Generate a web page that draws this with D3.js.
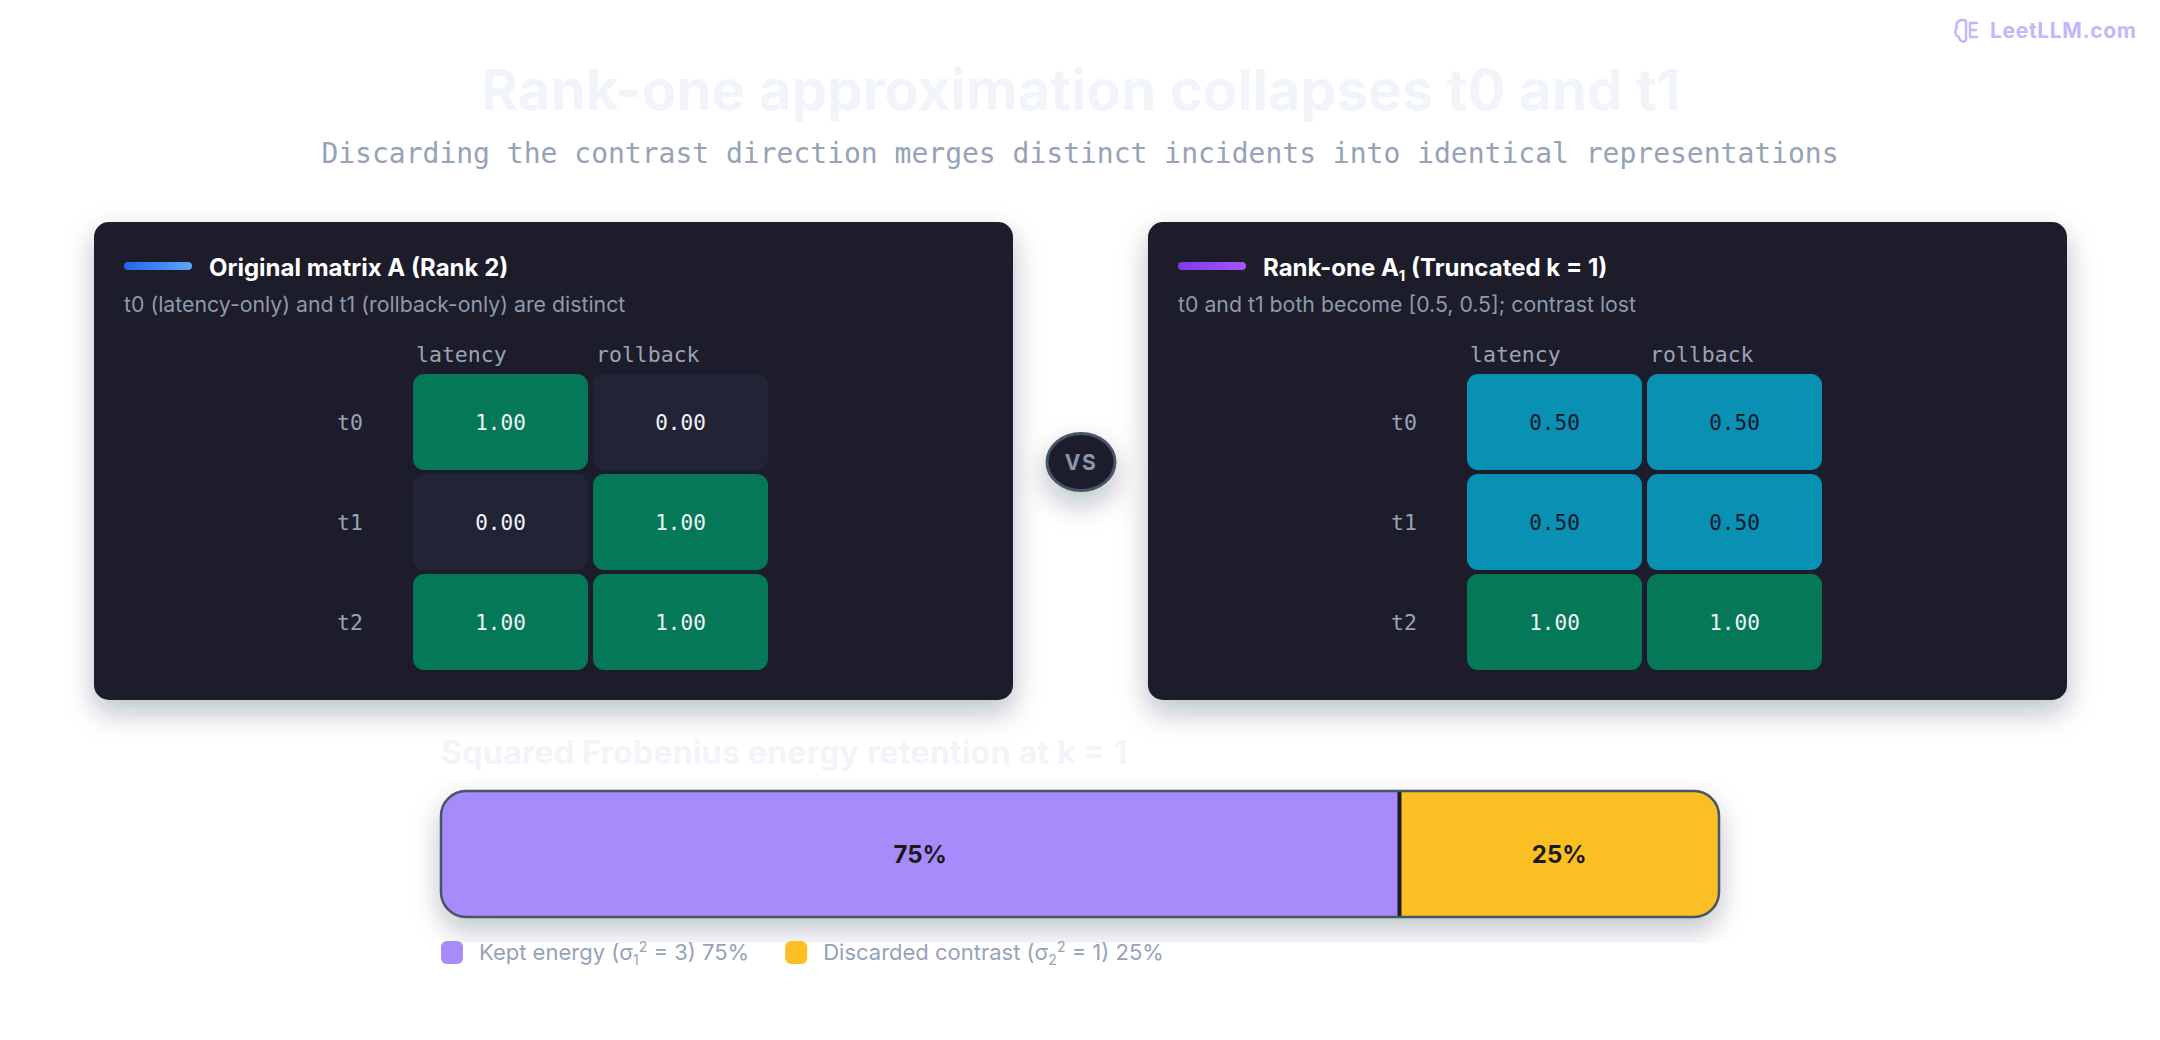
<!DOCTYPE html>
<html>
<head>
<meta charset="utf-8">
<script src="https://cdn.jsdelivr.net/npm/d3@7"></script>
<style>
  html, body { margin: 0; padding: 0; background: #ffffff; }
  svg { display: block; }
</style>
</head>
<body>
<div id="chart"></div>
<script>
// matrix data
const rowNames   = ["t0", "t1", "t2"];
const colNames   = ["latency", "rollback"];
const origVals   = [[1, 0], [0, 1], [1, 1]];
const rankOneVals = [[0.5, 0.5], [0.5, 0.5], [1, 1]];

// energy split (sigma squared)
const energyNames  = ["Kept energy", "Discarded contrast"];
const energyVals   = [3, 1];
const energyColors = ["#a78bfa", "#fbbf24"];

const W = 2160, H = 1040;
const sans = "Inter, 'Noto Sans', sans-serif";
const mono = "'DejaVu Sans Mono', 'Liberation Mono', monospace";

let svg = d3.select("#chart").append("svg")
    .attr("width", W)
    .attr("height", H);

let defs = svg.append("defs");

function addShadow(id, pad){
    let f = defs.append("filter")
        .attr("id", id)
        .attr("x", -pad + "%").attr("y", -pad + "%")
        .attr("width", (100 + 2 * pad) + "%").attr("height", (100 + 3 * pad) + "%");
    f.append("feDropShadow")
        .attr("dx", 0).attr("dy", 12)
        .attr("stdDeviation", 14)
        .attr("flood-color", "#0f172a")
        .attr("flood-opacity", 0.28);
}
addShadow("shadow", 10);
addShadow("shadowSmall", 80);

function addGrad(id, c0, c1){
    let g = defs.append("linearGradient").attr("id", id)
        .attr("x1", "0%").attr("x2", "100%").attr("y1", "0%").attr("y2", "0%");
    g.append("stop").attr("offset", "0%").attr("stop-color", c0);
    g.append("stop").attr("offset", "100%").attr("stop-color", c1);
}
addGrad("gradBlue", "#2563eb", "#60a5fa");
addGrad("gradPurple", "#7c3aed", "#a855f7");

// watermark
let wm = svg.append("g").attr("transform", "translate(1953,18)");
wm.append("path")
    .attr("d", "M10 2 C4 2 2 7 4 10 C1 12 2 18 6 19 C6 23 11 25 13 22 L13 3 C12 2 11 2 10 2 Z M17 5 L24 5 M17 12 L23 12 M17 19 L24 19 M17 5 L17 19")
    .attr("fill", "none")
    .attr("stroke", "#c4b5fd")
    .attr("stroke-width", 2.4)
    .attr("stroke-linecap", "round")
    .attr("stroke-linejoin", "round");
svg.append("text")
    .attr("x", 1990).attr("y", 38)
    .attr("font-family", sans).attr("font-weight", 700)
    .attr("font-size", 21)
    .attr("textLength", 146)
    .attr("lengthAdjust", "spacing")
    .attr("fill", "#c4b5fd")
    .text("LeetLLM.com");

// titles
svg.append("text")
    .attr("x", 1081).attr("y", 110)
    .attr("text-anchor", "middle")
    .attr("font-family", sans).attr("font-weight", 700)
    .attr("font-size", 56.5)
    .attr("fill", "#f1f5f9")
    .text("Rank-one approximation collapses t0 and t1");

svg.append("text")
    .attr("x", 1080).attr("y", 163)
    .attr("text-anchor", "middle")
    .attr("font-family", mono)
    .attr("font-size", 28)
    .attr("fill", "#94a3b8")
    .text("Discarding the contrast direction merges distinct incidents into identical representations");

// matrix cards
const cardW = 919, cardH = 478, cardY = 222;

function cellFill(v){
    if (v >= 1) return "#047857";
    if (v > 0)  return "#0891b2";
    return "#232338";
}
function cellText(v){
    return (v > 0 && v < 1) ? "#0f172a" : "#f1f5f9";
}

let xBand = d3.scaleBand().domain(colNames).range([319, 319 + 355]).paddingInner(5 / 180);
let yBand = d3.scaleBand().domain(rowNames).range([152, 152 + 296]).paddingInner(4 / 100);

function drawCard(cx, title, sub, grad, vals){
    let g = svg.append("g").attr("transform", "translate(" + cx + "," + cardY + ")");

    g.append("rect")
        .attr("width", cardW).attr("height", cardH)
        .attr("rx", 15)
        .attr("fill", "#1c1c29")
        .attr("filter", "url(#shadow)");

    g.append("rect")
        .attr("x", 30).attr("y", 40)
        .attr("width", 68).attr("height", 8)
        .attr("rx", 4)
        .attr("fill", "url(#" + grad + ")");

    let t = g.append("text")
        .attr("x", 115).attr("y", 54)
        .attr("font-family", sans).attr("font-weight", 700)
        .attr("font-size", 24)
        .attr("fill", "#ffffff");
    title.forEach(p => {
        let ts = t.append("tspan").text(p.t);
        if (p.sub) ts.attr("font-size", 15).attr("dy", 5);
        if (p.back) ts.attr("dy", -5);
    });

    g.append("text")
        .attr("x", 30).attr("y", 90)
        .attr("font-family", sans)
        .attr("font-size", 21.3)
        .attr("fill", "#8e99ab")
        .text(sub);

    g.selectAll(".colHead").data(colNames).enter()
        .append("text")
            .attr("class", "colHead")
            .attr("x", d => xBand(d) + 3)
            .attr("y", 140)
            .attr("font-family", mono)
            .attr("font-size", 21.5)
            .attr("fill", "#9aa3b5")
            .text(d => d);

    g.selectAll(".rowHead").data(rowNames).enter()
        .append("text")
            .attr("class", "rowHead")
            .attr("x", 269)
            .attr("y", d => yBand(d) + yBand.bandwidth() / 2)
            .attr("dy", "0.36em")
            .attr("text-anchor", "end")
            .attr("font-family", mono)
            .attr("font-size", 21.5)
            .attr("fill", "#9aa3b5")
            .text(d => d);

    let cells = [];
    vals.forEach((row, i) => row.forEach((v, j) => cells.push({ r: rowNames[i], c: colNames[j], v: v })));

    let cg = g.selectAll(".cell").data(cells).enter()
        .append("g").attr("class", "cell");
    cg.append("rect")
        .attr("x", d => xBand(d.c))
        .attr("y", d => yBand(d.r))
        .attr("width", xBand.bandwidth())
        .attr("height", yBand.bandwidth())
        .attr("rx", 11)
        .attr("fill", d => cellFill(d.v));
    cg.append("text")
        .attr("x", d => xBand(d.c) + xBand.bandwidth() / 2)
        .attr("y", d => yBand(d.r) + yBand.bandwidth() / 2)
        .attr("dy", "0.36em")
        .attr("text-anchor", "middle")
        .attr("font-family", mono)
        .attr("font-size", 21)
        .attr("fill", d => cellText(d.v))
        .text(d => d3.format(".2f")(d.v));
}

drawCard(94, [{ t: "Original matrix A (Rank 2)" }],
    "t0 (latency-only) and t1 (rollback-only) are distinct", "gradBlue", origVals);
drawCard(1148, [{ t: "Rank-one A" }, { t: "1", sub: true }, { t: " (Truncated k = 1)", back: true }],
    "t0 and t1 both become [0.5, 0.5]; contrast lost", "gradPurple", rankOneVals);

// VS badge
svg.append("ellipse")
    .attr("cx", 1081).attr("cy", 462)
    .attr("rx", 34).attr("ry", 28.5)
    .attr("fill", "#1c1c29")
    .attr("stroke", "#475569")
    .attr("stroke-width", 3)
    .attr("filter", "url(#shadowSmall)");
svg.append("text")
    .attr("x", 1081).attr("y", 462)
    .attr("dy", "0.36em")
    .attr("text-anchor", "middle")
    .attr("font-family", sans).attr("font-weight", 700)
    .attr("font-size", 21)
    .attr("letter-spacing", 1.5)
    .attr("fill", "#8a96ad")
    .text("VS");

// energy bar
const barY = 791, barH = 126;
let total = d3.sum(energyVals);
let xE = d3.scaleLinear().domain([0, total]).range([441, 1719]);

let segs = [];
let acc = 0;
energyVals.forEach((v, i) => { segs.push({ name: energyNames[i], v: v, x0: acc, x1: acc + v, color: energyColors[i] }); acc += v; });

svg.append("text")
    .attr("x", 441).attr("y", 764)
    .attr("font-family", sans).attr("font-weight", 700)
    .attr("font-size", 32.5)
    .attr("fill", "#f1f5f9")
    .text("Squared Frobenius energy retention at k = 1");

defs.append("clipPath").attr("id", "barClip")
    .append("rect")
        .attr("x", xE(0)).attr("y", barY)
        .attr("width", xE(total) - xE(0)).attr("height", barH)
        .attr("rx", 25);

svg.append("rect")
    .attr("x", xE(0)).attr("y", barY)
    .attr("width", xE(total) - xE(0)).attr("height", barH)
    .attr("rx", 25)
    .attr("fill", "#ffffff")
    .attr("filter", "url(#shadow)");

let barG = svg.append("g").attr("clip-path", "url(#barClip)");
barG.selectAll("rect").data(segs).enter()
    .append("rect")
        .attr("x", d => xE(d.x0))
        .attr("y", barY)
        .attr("width", d => xE(d.x1) - xE(d.x0))
        .attr("height", barH)
        .attr("fill", d => d.color);

svg.append("line")
    .attr("x1", xE(segs[0].x1)).attr("x2", xE(segs[0].x1))
    .attr("y1", barY).attr("y2", barY + barH)
    .attr("stroke", "#1a1a24")
    .attr("stroke-width", 4);

svg.append("rect")
    .attr("x", xE(0)).attr("y", barY)
    .attr("width", xE(total) - xE(0)).attr("height", barH)
    .attr("rx", 25)
    .attr("fill", "none")
    .attr("stroke", "#475569")
    .attr("stroke-width", 2.5);

let pct = d3.format(".0%");
svg.selectAll(".segLabel").data(segs).enter()
    .append("text")
        .attr("class", "segLabel")
        .attr("x", d => (xE(d.x0) + xE(d.x1)) / 2)
        .attr("y", barY + barH / 2)
        .attr("dy", "0.36em")
        .attr("text-anchor", "middle")
        .attr("font-family", sans).attr("font-weight", 700)
        .attr("font-size", 24)
        .attr("fill", "#1a1a1a")
        .text(d => pct(d.v / total));

// legend
let lx = 441;
segs.forEach((d, i) => {
    svg.append("rect")
        .attr("x", lx).attr("y", 941)
        .attr("width", 22).attr("height", 23)
        .attr("rx", 6)
        .attr("fill", d.color);
    let t = svg.append("text")
        .attr("x", lx + 38).attr("y", 960)
        .attr("font-family", sans)
        .attr("font-size", 22)
        .attr("fill", "#94a3b8");
    t.append("tspan").text(d.name + " (σ");
    t.append("tspan").attr("font-size", 14).attr("dy", 5).text(String(i + 1));
    t.append("tspan").attr("font-size", 14).attr("dy", -13).text("2");
    t.append("tspan").attr("dy", 8).text(" = " + d.v + ") " + pct(d.v / total));
    lx = lx + 38 + t.node().getComputedTextLength() + 36;
});
</script>
</body>
</html>
